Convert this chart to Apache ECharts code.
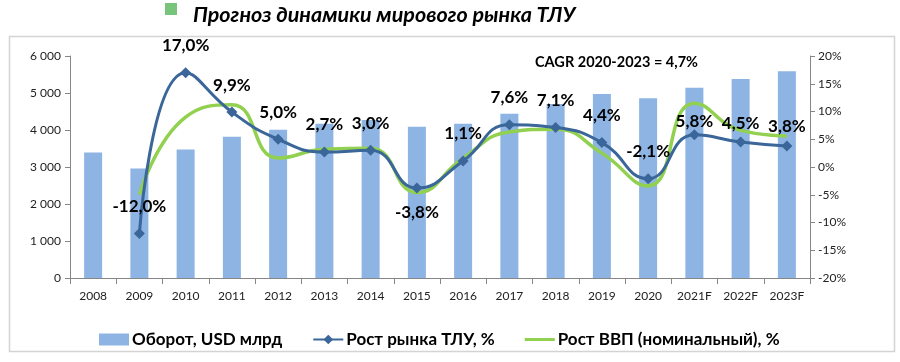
<!DOCTYPE html>
<html><head><meta charset="utf-8">
<script src="https://cdn.jsdelivr.net/npm/echarts@6/dist/echarts.min.js"></script>
<style>html,body{margin:0;padding:0;background:#fff}#c{width:900px;height:362px}</style>
</head><body><div id="c"></div>
<script>
const categories = ['2008','2009','2010','2011','2012','2013','2014','2015','2016','2017','2018','2019','2020','2021F','2022F','2023F'];
const turnover = [3390,2960,3470,3820,4010,4170,4270,4090,4170,4440,4700,4970,4860,5140,5380,5590];
const marketGrowth = [null,-12.0,17.0,9.9,5.0,2.7,3.0,-3.8,1.1,7.6,7.1,4.4,-2.1,5.8,4.5,3.8];
const gdpGrowth = [null,-5.0,9.0,11.2,1.6,3.2,3.4,-4.6,1.6,6.3,6.8,2.5,-3.4,11.5,6.6,5.6];
const leftTicks = [0,1000,2000,3000,4000,5000,6000];
const rightTicks = [-20,-15,-10,-5,0,5,10,15,20];

const FONT = 'Lato, "Open Sans", sans-serif';
const labelTweaks = {7:{position:'bottom',distance:10}, 13:{position:'top',distance:-1}, 14:{position:'top',distance:5}, 15:{position:'top',distance:5}};

const chart = echarts.init(document.getElementById('c'));
const mgData = marketGrowth.map((v,i)=>{
  const t = labelTweaks[i] || {position:'top',distance:13};
  return {value:v, label:{position:t.position, distance:t.distance}};
});
chart.setOption({
  animation:false,
  textStyle:{fontFamily:FONT},
  graphic:[
    {type:'rect', shape:{x:9.5,y:36.5,width:885,height:315}, style:{fill:'none',stroke:'#d4d4d4',lineWidth:1.5}, silent:true},
    {type:'rect', shape:{x:165,y:3,width:12,height:12}, style:{fill:'#77c47a'}},
    {type:'text', left:193, top:4, style:{text:'Прогноз динамики мирового рынка ТЛУ', font:'italic bold 21.5px '+FONT, fill:'#000'}},
    {type:'text', left:535, top:55, style:{text:'CAGR 2020-2023 = 4,7%', font:'bold 14.5px '+FONT, fill:'#000'}}
  ],
  legend:{
    left:94, top:326, itemGap:30, itemWidth:30, itemHeight:12,
    textStyle:{fontFamily:FONT, fontSize:17, fontWeight:'bold', color:'#000', padding:[0,0,0,-2]},
    data:[{name:'Оборот, USD млрд', icon:'rect'},{name:'Рост рынка ТЛУ, %'},{name:'Рост ВВП (номинальный), %', icon:'path://M0,0 H30 V3 H0 Z'}]
  },
  grid:{left:70, right:90, top:56, bottom:84},
  xAxis:{type:'category', data:categories,
    axisLine:{lineStyle:{color:'#868686'}},
    axisTick:{show:true, length:6, lineStyle:{color:'#868686'}},
    axisLabel:{color:'#222', fontSize:12, margin:12, fontFamily:FONT}
  },
  yAxis:[
    {type:'value', min:leftTicks[0], max:leftTicks[leftTicks.length-1], interval:1000,
      splitLine:{show:false},
      axisLine:{show:true, lineStyle:{color:'#868686'}},
      axisTick:{show:true, length:5, lineStyle:{color:'#868686'}},
      axisLabel:{color:'#222', fontSize:12, margin:9, fontFamily:FONT, formatter:v=>String(v).replace(/\B(?=(\d{3})+(?!\d))/g,' ')}
    },
    {type:'value', min:rightTicks[0], max:rightTicks[rightTicks.length-1], interval:5,
      splitLine:{show:false},
      axisLine:{show:true, lineStyle:{color:'#868686'}},
      axisTick:{show:true, length:5, lineStyle:{color:'#868686'}},
      axisLabel:{color:'#222', fontSize:12, margin:8, fontFamily:FONT, formatter:v=>v+'%'}
    }
  ],
  series:[
    {name:'Оборот, USD млрд', type:'bar', data:turnover, barWidth:18, itemStyle:{color:'#8db4e2'}, z:1},
    {name:'Рост ВВП (номинальный), %', type:'line', yAxisIndex:1, data:gdpGrowth, smooth:0.5, showSymbol:false, symbol:'none',
      lineStyle:{color:'#92d050', width:3.5}, itemStyle:{color:'#92d050'}, z:3},
    {name:'Рост рынка ТЛУ, %', type:'line', yAxisIndex:1, data:mgData, smooth:0.5, symbol:'diamond', symbolSize:11,
      lineStyle:{color:'#3a6699', width:3}, itemStyle:{color:'#3a6699'}, z:4,
      label:{show:true, fontFamily:FONT, fontSize:17, fontWeight:'bold', color:'#000',
        formatter:p=>p.value.toFixed(1).replace('.',',')+'%'}
    }
  ]
});
</script></body></html>
